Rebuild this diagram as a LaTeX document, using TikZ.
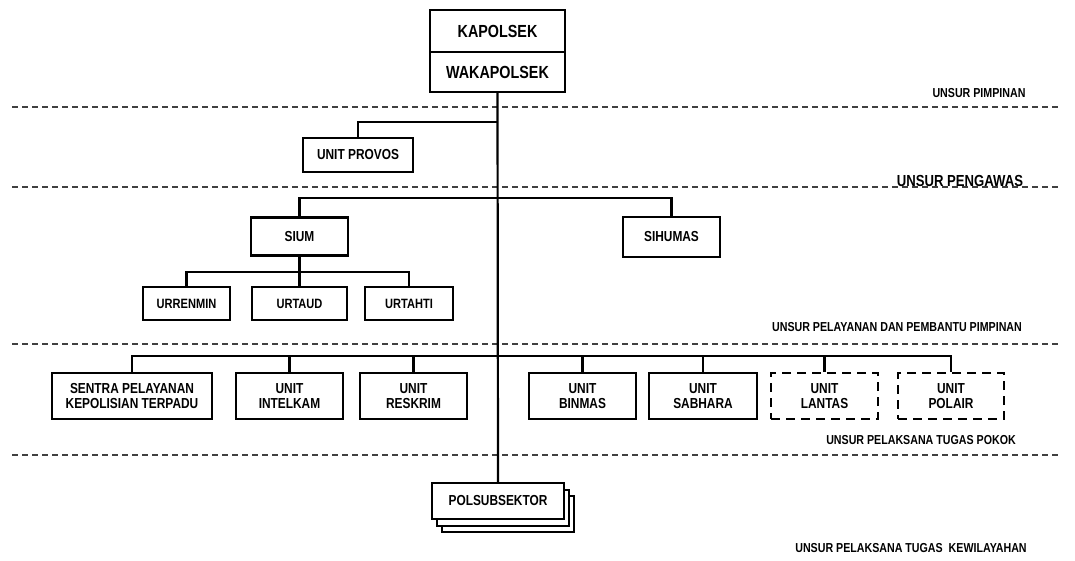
\documentclass[tikz,border=0pt]{standalone}
\usepackage{fontspec}
\setmainfont[FakeStretch=0.82]{Liberation Sans}
\usetikzlibrary{positioning, calc}
\tikzset{
    %Define style for boxes
    kotak/.style={
           rectangle,
           draw=black, line width=2.2pt,
           inner sep=0pt,
           align=center,
           font=\bfseries\fontsize{14.5}{15.5}\selectfont},
    kotakbesar/.style={
           kotak,
           minimum width=135pt,
           font=\bfseries\fontsize{17.5}{18.5}\selectfont},
    kotaksub/.style={
           kotak,
           minimum height=33pt,
           font=\bfseries\fontsize{13.5}{14.5}\selectfont},
    kotakputus/.style={
           kotak,
           dash pattern=on 9pt off 6pt},
    % Define line styles
    garis/.style={
           line width=2.2pt},
    batas/.style={
           line width=1.7pt,
           black!75,
           dash pattern=on 6pt off 4pt},
    unsur/.style={
           inner sep=0pt,
           font=\bfseries\fontsize{13}{14}\selectfont}
}
\begin{document}
\begin{tikzpicture}[x=1pt, y=-1pt]
	\useasboundingbox (0,0) rectangle (1075,561);
	%
	% pimpinan
	%
	\node[kotakbesar, minimum height=42pt] (kapolsek) at (497.5,31) {KAPOLSEK};
	\node[kotakbesar, minimum height=40pt] (wakapolsek) at (497.5,72) {WAKAPOLSEK};
	%
	% pengawas dan pembantu
	%
	\node[kotak, minimum width=110pt, minimum height=34pt] (provos) at (358,155) {UNIT PROVOS};
	\node[kotak, minimum width=97pt, minimum height=38pt] (sium) at (299.5,236.5) {SIUM};
	\node[kotak, minimum width=97pt, minimum height=40pt] (sihumas) at (671.5,237) {SIHUMAS};
	\node[kotaksub, minimum width=87pt] (urrenmin) at (186.5,303.5) {URRENMIN};
	\node[kotaksub, minimum width=95pt] (urtaud) at (299.5,303.5) {URTAUD};
	\node[kotaksub, minimum width=88pt] (urtahti) at (409,303.5) {URTAHTI};
	%
	% pelaksana tugas pokok
	%
	\node[kotak, minimum width=160pt, minimum height=46pt] (sentra) at (132,396) {SENTRA PELAYANAN\\KEPOLISIAN TERPADU};
	\node[kotak, minimum width=107pt, minimum height=46pt] (intelkam) at (289.5,396) {UNIT\\INTELKAM};
	\node[kotak, minimum width=107pt, minimum height=46pt] (reskrim) at (413.5,396) {UNIT\\RESKRIM};
	\node[kotak, minimum width=107pt, minimum height=46pt] (binmas) at (582.5,396) {UNIT\\BINMAS};
	\node[kotak, minimum width=108pt, minimum height=46pt] (sabhara) at (703,396) {UNIT\\SABHARA};
	\node[kotakputus, minimum width=107pt, minimum height=46pt] (lantas) at (824.5,396) {UNIT\\LANTAS};
	\node[kotakputus, minimum width=106pt, minimum height=46pt] (polair) at (951,396) {UNIT\\POLAIR};
	%
	% kewilayahan (tumpukan)
	%
	\node[kotak, minimum width=132pt, minimum height=36pt, fill=white] (polsub3) at (508,514) {};
	\node[kotak, minimum width=132pt, minimum height=36pt, fill=white] (polsub2) at (503,508) {};
	\node[kotak, minimum width=132pt, minimum height=36pt, fill=white] (polsub) at (498,501) {POLSUBSEKTOR};
	%
	% Garis batas
	%
	\coordinate (kiri) at (12,0);
	\coordinate (kanan) at (1060,0);
	\foreach \y in {107,187,344,455}
		\draw[batas] (kiri |- 0,\y) -- (kanan |- 0,\y);
	\node[unsur] (lpimpinan) at (979,93) {UNSUR PIMPINAN};
	\node[unsur, font=\bfseries\fontsize{16}{17}\selectfont] (lpengawas) at (960,181) {UNSUR PENGAWAS};
	\node[unsur] (lpelayanan) at (897,327) {UNSUR PELAYANAN DAN PEMBANTU PIMPINAN};
	\node[unsur] (lpokok) at (921,440) {UNSUR PELAKSANA TUGAS POKOK};
	\node[unsur] (lwilayah) at (911,548) {UNSUR PELAKSANA TUGAS\ \ KEWILAYAHAN};
	%
	% Liens
	%
	\draw[garis] (wakapolsek.south) -- (polsub.north);
	\draw[garis] (provos.north) |- (wakapolsek.south |- 0,122);
	\draw[garis] (sium.north) -- (sium.north |- 0,198) -- (sihumas.north |- 0,198) -- (sihumas.north);
	\draw[garis] (urrenmin.north) -- (urrenmin.north |- 0,272) -- (urtahti.north |- 0,272) -- (urtahti.north);
	\draw[garis] (sium.south) -- (urtaud.north);
	\draw[garis] (sentra.north) -- (sentra.north |- 0,356) -- (polair.north |- 0,356) -- (polair.north);
	\foreach \n in {intelkam, reskrim, binmas, sabhara, lantas}
		\draw[garis] (\n.north) -- (\n.north |- 0,356);
\end{tikzpicture}
\end{document}
